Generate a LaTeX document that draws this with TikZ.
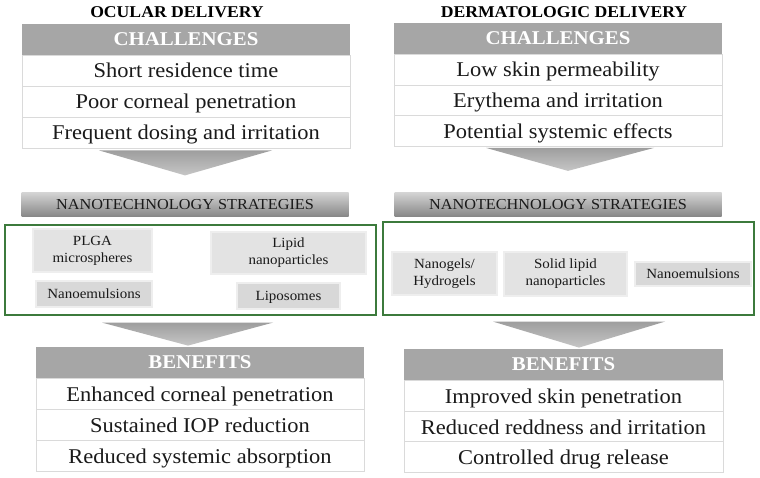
\documentclass[tikz,border=0pt]{standalone}
\usepackage{fontspec}
\setmainfont[FakeStretch=1.07]{Liberation Serif}
\usepackage{tikz}
\usetikzlibrary{calc}
\usepackage{xcolor}
\definecolor{headgray}{HTML}{A6A6A6}
\definecolor{rowline}{HTML}{DADADA}
\definecolor{framegreen}{HTML}{3C7A3C}
\definecolor{chiplight}{HTML}{E3E3E3}
\definecolor{chipdark}{HTML}{D8D8D8}
\definecolor{chipedge}{HTML}{EEEEEE}
\definecolor{bartop}{HTML}{D2D2D2}
\definecolor{barbot}{HTML}{858585}
\definecolor{chevtop}{HTML}{9E9E9E}
\definecolor{chevbot}{HTML}{C6C6C6}
\definecolor{ink}{HTML}{1A1A1A}

\tikzset{
  coltitle/.style={font=\fontsize{16.5}{20}\selectfont\bfseries, text=black, inner sep=0pt},
  headbar/.style={fill=headgray, minimum height=31pt, inner sep=0pt, font=\fontsize{19.5}{24}\selectfont\bfseries, text=white},
  listrow/.style={draw=rowline, line width=0.8pt, fill=white, minimum height=31pt, inner sep=0pt, text height=15pt, text depth=0pt, text=ink, font=\fontsize{21}{24}\selectfont},
  stratbar/.style={top color=bartop, bottom color=barbot, minimum width=327pt, minimum height=24pt, inner sep=0pt, text=ink, font=\fontsize{15.2}{18}\selectfont},
  stratframe/.style={draw=framegreen, line width=1.2pt, inner sep=0pt},
  chip/.style={fill=chiplight, draw=chipedge, line width=1.5pt, inner sep=0pt, align=center, text=ink, font=\fontsize{14}{17}\selectfont},
  oneline/.style={text height=9.5pt, text depth=0pt},
  chevron/.style={top color=chevtop, bottom color=chevbot},
}

\begin{document}
\begin{tikzpicture}[x=1pt, y=-1pt]
  \useasboundingbox (0,0) rectangle (760,478);

  % Ocular delivery
  \node[coltitle] (ltitle) at (177,12.5) {OCULAR DELIVERY};
  \node[headbar, minimum width=328pt] (lch) at (186,39.5) {CHALLENGES};
  \node[listrow, minimum width=328pt] (lc1) at (186,70.5) {Short residence time};
  \node[listrow, minimum width=328pt] (lc2) at (186,101.5) {Poor corneal penetration};
  \node[listrow, minimum width=328pt] (lc3) at (186,132.5) {Frequent dosing and irritation};
  \shade[chevron] ($(lc3.south)+(-87,2)$) -- ($(lc3.south)+(86,2)$) -- ($(lc3.south)+(-1,27)$) -- cycle;

  \node[stratbar] (lnano) at (185,205) {NANOTECHNOLOGY STRATEGIES};
  \node[stratframe, minimum width=371pt, minimum height=90pt] (lframe) at (190.5,270) {};
  \node[chip, minimum width=119pt, minimum height=43pt] (lplga) at (92.5,250.5) {PLGA\\microspheres};
  \node[chip, minimum width=155pt, minimum height=42pt] (llipid) at (288.5,253) {Lipid\\nanoparticles};
  \node[chip, oneline, fill=chipdark, minimum width=116pt, minimum height=26pt] (lemul) at (94,294) {Nanoemulsions};
  \node[chip, oneline, fill=chipdark, minimum width=103pt, minimum height=26pt] (llipo) at (288.5,296) {Liposomes};
  \shade[chevron] ($(lframe.south)+(-88.5,7)$) -- ($(lframe.south)+(82.5,7)$) -- ($(lframe.south)+(-2.5,30)$) -- cycle;

  \node[headbar, minimum width=328pt] (lbn) at (200,362.5) {BENEFITS};
  \node[listrow, minimum width=328pt] (lb1) at (200,393.5) {Enhanced corneal penetration};
  \node[listrow, minimum width=328pt] (lb2) at (200,424.5) {Sustained IOP reduction};
  \node[listrow, minimum width=328pt] (lb3) at (200,455.5) {Reduced systemic absorption};

  % Dermatologic delivery
  \node[coltitle] (rtitle) at (564,12.5) {DERMATOLOGIC DELIVERY};
  \node[headbar, minimum width=328pt] (rch) at (558,38.5) {CHALLENGES};
  \node[listrow, minimum width=328pt] (rc1) at (558,69.5) {Low skin permeability};
  \node[listrow, minimum width=328pt] (rc2) at (558,100.5) {Erythema and irritation};
  \node[listrow, minimum width=328pt] (rc3) at (558,131) {Potential systemic effects};
  \shade[chevron] ($(rc3.south)+(-72,1)$) -- ($(rc3.south)+(96,1)$) -- ($(rc3.south)+(10,24)$) -- cycle;

  \node[stratbar] (rnano) at (558,205) {NANOTECHNOLOGY STRATEGIES};
  \node[stratframe, minimum width=371pt, minimum height=93pt] (rframe) at (568.5,268.5) {};
  \node[chip, minimum width=105pt, minimum height=43pt] (rgel) at (444.5,273.5) {Nanogels/\\Hydrogels};
  \node[chip, minimum width=123pt, minimum height=44pt] (rsln) at (565.5,274) {Solid lipid\\nanoparticles};
  \node[chip, oneline, fill=chipdark, minimum width=116pt, minimum height=24pt] (remul) at (693,274) {Nanoemulsions};
  \shade[chevron] ($(rframe.south)+(-75.5,6)$) -- ($(rframe.south)+(96.5,6)$) -- ($(rframe.south)+(10.5,32)$) -- cycle;

  \node[headbar, minimum width=319pt] (rbn) at (563.5,364.5) {BENEFITS};
  \node[listrow, minimum width=319pt] (rb1) at (563.5,395.5) {Improved skin penetration};
  \node[listrow, minimum width=319pt] (rb2) at (563.5,426.5) {Reduced reddness and irritation};
  \node[listrow, minimum width=319pt] (rb3) at (563.5,457) {Controlled drug release};
\end{tikzpicture}
\end{document}
